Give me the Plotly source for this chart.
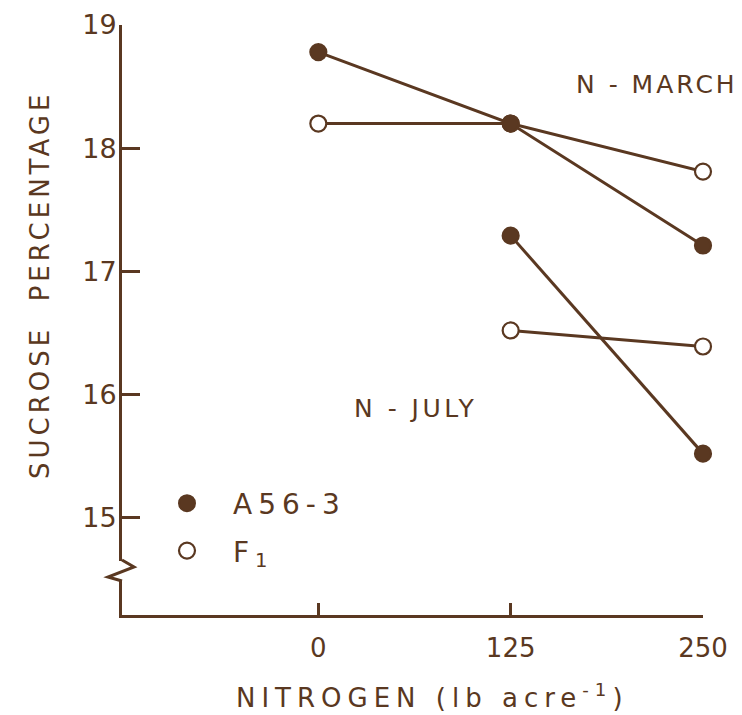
import plotly.graph_objects as go

# ---- data ----
nitrogen = [0, 125, 250]
a56_march = [18.78, 18.20, 17.21]
f1_march = [18.20, 18.20, 17.81]
nitrogen_july = [125, 250]
a56_july = [17.29, 15.52]
f1_july = [16.52, 16.39]
y_ticks = [15, 16, 17, 18, 19]
x_ticks = [0, 125, 250]
legend_names = ["A56-3", "F<sub>1</sub>"]

INK = "#5a3821"
FONT = "DejaVu Sans"

def sp(text, px_):
    return f'<span style="letter-spacing:{px_}px">{text}</span>'

fig = go.Figure()

def line(x, y, filled):
    fig.add_trace(go.Scatter(
        x=x, y=y, mode="lines+markers", showlegend=False,
        line=dict(color=INK, width=3),
        marker=dict(size=16, symbol="circle",
                    color=INK if filled else "white",
                    line=dict(color=INK, width=2.2)),
        cliponaxis=False))

line(nitrogen, f1_march, False)
line(nitrogen, a56_march, True)
line(nitrogen_july, f1_july, False)
line(nitrogen_july, a56_july, True)

# legend-only entries
fig.add_trace(go.Scatter(x=[None], y=[None], mode="markers", name=sp(legend_names[0], 6),
                         legendgroup="a", marker=dict(size=16, color=INK, line=dict(color=INK, width=2))))
fig.add_trace(go.Scatter(x=[None], y=[None], mode="markers", name=sp(legend_names[1], 6),
                         legendgroup="f", marker=dict(size=16, color="white", line=dict(color=INK, width=2.2))))

# window-pixel -> paper helpers (page body has an 8px margin)
def py(p):
    return (615 - p) / 590
def px(p):
    return (p - 122) / 581

# axis break zigzag on the y-axis
fig.add_shape(type="line", xref="paper", yref="paper", x0=0, x1=0, y0=py(561), y1=py(581),
              line=dict(color="white", width=6))
fig.add_shape(type="path", xref="paper", yref="paper",
              path=f"M 0,{py(560)} L {px(134)},{py(567)} L {px(108)},{py(577)} L 0,{py(581)}",
              line=dict(color=INK, width=3))

def note(text, x, y, size=25, angle=0):
    fig.add_annotation(text=text, xref="paper", yref="paper", x=px(x), y=py(y),
                       xanchor="center", yanchor="middle", textangle=angle,
                       showarrow=False, font=dict(family=FONT, size=size, color=INK))

note(sp("N - MARCH", 3), 657, 85)
note(sp("N - JULY", 3.5), 415, 408)
note(sp("NITROGEN (lb acre<sup>-1</sup>)", 6), 432, 696, size=26)
note(sp("SUCROSE  PERCENTAGE", 4), 40, 285, size=26, angle=-90)

fig.update_layout(
    width=734, height=707,
    margin=dict(l=114, r=39, t=17, b=100),
    paper_bgcolor="white", plot_bgcolor="white",
    font=dict(family=FONT, size=26, color=INK),
    legend=dict(x=px(141), y=py(527), xanchor="left", yanchor="middle",
                bgcolor="rgba(0,0,0,0)", tracegroupgap=8, itemwidth=82,
                font=dict(family=FONT, size=28, color=INK)),
    xaxis=dict(range=[-127.6, 250], tickvals=x_ticks, ticktext=[str(v) for v in x_ticks],
               showgrid=False, zeroline=False, showline=True, linecolor=INK, linewidth=3,
               ticks="inside", ticklen=12, tickwidth=2.5, tickcolor=INK, automargin=False,
               ticklabelstandoff=8, tickfont=dict(family=FONT, size=26, color=INK)),
    yaxis=dict(range=[14.21, 19], tickvals=y_ticks, ticktext=[str(v) for v in y_ticks],
               showgrid=False, zeroline=False, showline=True, linecolor=INK, linewidth=3,
               ticks="inside", ticklen=18, tickwidth=2.5, tickcolor=INK, automargin=False,
               ticklabelstandoff=-3, tickfont=dict(family=FONT, size=27, color=INK)),
)

fig.write_html("out.html")
